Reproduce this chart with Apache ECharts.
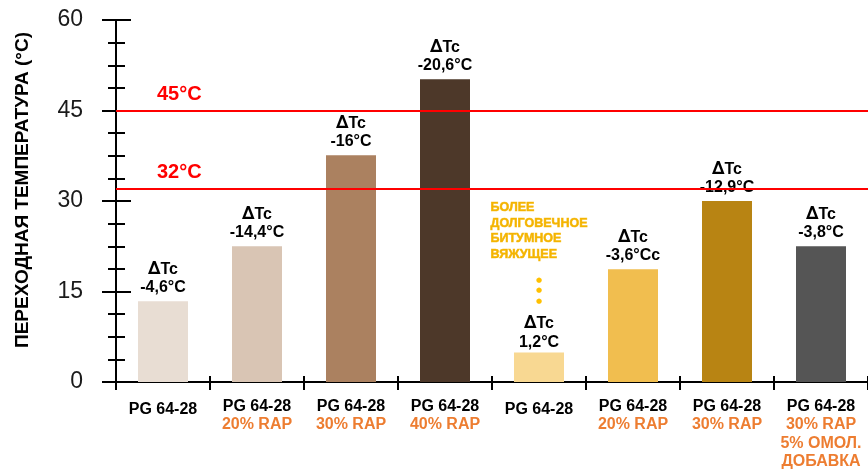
<!DOCTYPE html>
<html>
<head>
<meta charset="utf-8">
<script src="https://cdn.jsdelivr.net/npm/echarts@6/dist/echarts.min.js"></script>
<style>
  html, body { margin: 0; padding: 0; background: #ffffff; }
  #chart { width: 868px; height: 472px; }
</style>
</head>
<body>
<div id="chart"></div>
<script>
// Binder categories (first line = grade, following lines = additive)
const categories = [
  'PG 64-28',
  'PG 64-28\n20% RAP',
  'PG 64-28\n30% RAP',
  'PG 64-28\n40% RAP',
  'PG 64-28',
  'PG 64-28\n20% RAP',
  'PG 64-28\n30% RAP',
  'PG 64-28\n30% RAP\n5% ОМОЛ.\nДОБАВКА'
];
// Transition temperature, °C
const transitionTemp = [13.4, 22.5, 37.6, 50.2, 4.9, 18.7, 30.0, 22.5];
// ΔTc annotations above each bar
const deltaLabels = ['-4,6°C', '-14,4°C', '-16°C', '-20,6°C', '1,2°C', '-3,6°Cc', '-12,9°C', '-3,8°C'];
const barColors = ['#e8ddd3', '#d9c5b4', '#ab8160', '#4d3829', '#f8d892', '#f1be4f', '#b88413', '#555555'];
// Reference temperature thresholds
const thresholds = [45, 32];
const thresholdLabels = ['45°C', '32°C'];
const yTicks = { min: 0, max: 60, interval: 15 };
const highlightIndex = 4;
const highlightNote = ['БОЛЕЕ', 'ДОЛГОВЕЧНОЕ', 'БИТУМНОЕ', 'ВЯЖУЩЕЕ'];

const FONT = '"Liberation Sans", Arial, sans-serif';
const chart = echarts.init(document.getElementById('chart'), null, { renderer: 'canvas' });

const labelRich = {
  dl: { fontFamily: '"DejaVu Sans"', fontWeight: 'bold', fontSize: 18, color: '#000', lineHeight: 18.5 },
  h: { fontFamily: FONT, fontWeight: 'bold', fontSize: 16, color: '#000', lineHeight: 18.5 },
  v: { fontFamily: FONT, fontWeight: 'bold', fontSize: 16, color: '#000', lineHeight: 18.5 },
  g: {
    fontFamily: FONT, fontWeight: 'bold', fontSize: 12.5, color: '#f4b400', lineHeight: 15.5, align: 'left',
    textBorderColor: '#f7c230', textBorderWidth: 0.6
  },
  d: { fontFamily: '"DejaVu Sans"', fontSize: 7, color: '#ffc000', lineHeight: 10.5 },
  s1: { fontSize: 1, lineHeight: 12.75 },
  s2: { fontSize: 1, lineHeight: 8 }
};

const deltaHead = '{dl|∆}{h|Tc}';

const barData = transitionTemp.map((v, i) => {
  const item = { value: v, itemStyle: { color: barColors[i] } };
  if (i === highlightIndex) {
    item.label = {
      distance: 1,
      formatter: highlightNote.map(t => '{g|' + t + '}').join('\n') +
        '\n{s1| }\n{d|●}\n{d|●}\n{d|●}\n{s2| }\n' + deltaHead + '\n{v|' + deltaLabels[i] + '}'
    };
  }
  return item;
});

const xLabelFormatter = (val) => {
  const lines = val.split('\n');
  if (lines.length === 1) return '{c|' + lines[0] + '}';
  return '{a|' + lines[0] + '}\n' + lines.slice(1).map(l => '{b|' + l + '}').join('\n');
};

chart.setOption({
  animation: false,
  grid: { left: 116, top: 20, width: 756, height: 362 },
  xAxis: [
    {
      type: 'category',
      data: categories,
      position: 'bottom',
      axisLine: { lineStyle: { color: '#000', width: 2 } },
      axisTick: { show: true, length: 8, interval: 0, lineStyle: { color: '#000', width: 2 } },
      axisLabel: {
        interval: 0,
        margin: 15,
        formatter: xLabelFormatter,
        rich: {
          a: { fontFamily: FONT, fontWeight: 'bold', fontSize: 16, color: '#000', lineHeight: 18.5 },
          b: { fontFamily: FONT, fontWeight: 'bold', fontSize: 16, color: '#ed7d31', lineHeight: 18.5 },
          c: { fontFamily: FONT, fontWeight: 'bold', fontSize: 16, color: '#000', lineHeight: 26 }
        }
      },
      splitLine: { show: false }
    },
    {
      type: 'category',
      data: categories,
      position: 'bottom',
      axisLine: { show: false },
      axisTick: { show: true, inside: true, length: 6, interval: 0, lineStyle: { color: '#000', width: 2 } },
      axisLabel: { show: false },
      splitLine: { show: false }
    }
  ],
  yAxis: [
    {
      type: 'value',
      position: 'left',
      min: yTicks.min, max: yTicks.max, interval: yTicks.interval,
      axisLine: { show: true, lineStyle: { color: '#000', width: 2 } },
      axisTick: { show: true, length: 14, lineStyle: { color: '#000', width: 2 } },
      minorTick: { show: true, splitNumber: 4, length: 8, lineStyle: { color: '#000', width: 2 } },
      axisLabel: { margin: 33, fontFamily: FONT, fontSize: 23, color: '#1a1a1a' },
      splitLine: { show: false }
    },
    {
      type: 'value',
      position: 'left',
      min: yTicks.min, max: yTicks.max, interval: yTicks.interval,
      axisLine: { show: false },
      axisTick: { show: true, inside: true, length: 15, lineStyle: { color: '#000', width: 2 } },
      minorTick: { show: true, splitNumber: 4, length: 9, lineStyle: { color: '#000', width: 2 } },
      axisLabel: { show: false },
      splitLine: { show: false }
    }
  ],
  series: [
    {
      type: 'bar',
      xAxisIndex: 0,
      yAxisIndex: 0,
      barWidth: 50,
      data: barData,
      label: {
        show: true,
        position: 'top',
        distance: 4,
        formatter: (p) => deltaHead + '\n{v|' + deltaLabels[p.dataIndex] + '}',
        rich: labelRich
      },
      markLine: {
        silent: true,
        symbol: 'none',
        animation: false,
        lineStyle: { color: '#ff0000', width: 2, type: 'solid' },
        label: {
          show: true,
          position: 'insideStartTop',
          distance: [41, 6],
          formatter: '{b}',
          fontFamily: FONT,
          fontWeight: 'bold',
          fontSize: 20,
          color: '#ff0000'
        },
        emphasis: { disabled: true },
        data: thresholds.map((t, i) => ({ yAxis: t, name: thresholdLabels[i] }))
      },
      z: 2
    }
  ],
  graphic: [
    {
      type: 'text',
      rotation: Math.PI / 2,
      x: 23,
      y: 190,
      style: {
        text: 'ПЕРЕХОДНАЯ ТЕМПЕРАТУРА (°C)',
        fontFamily: FONT,
        fontWeight: 'bold',
        fontSize: 19,
        fill: '#000',
        align: 'center',
        verticalAlign: 'middle'
      }
    }
  ]
});
</script>
</body>
</html>
